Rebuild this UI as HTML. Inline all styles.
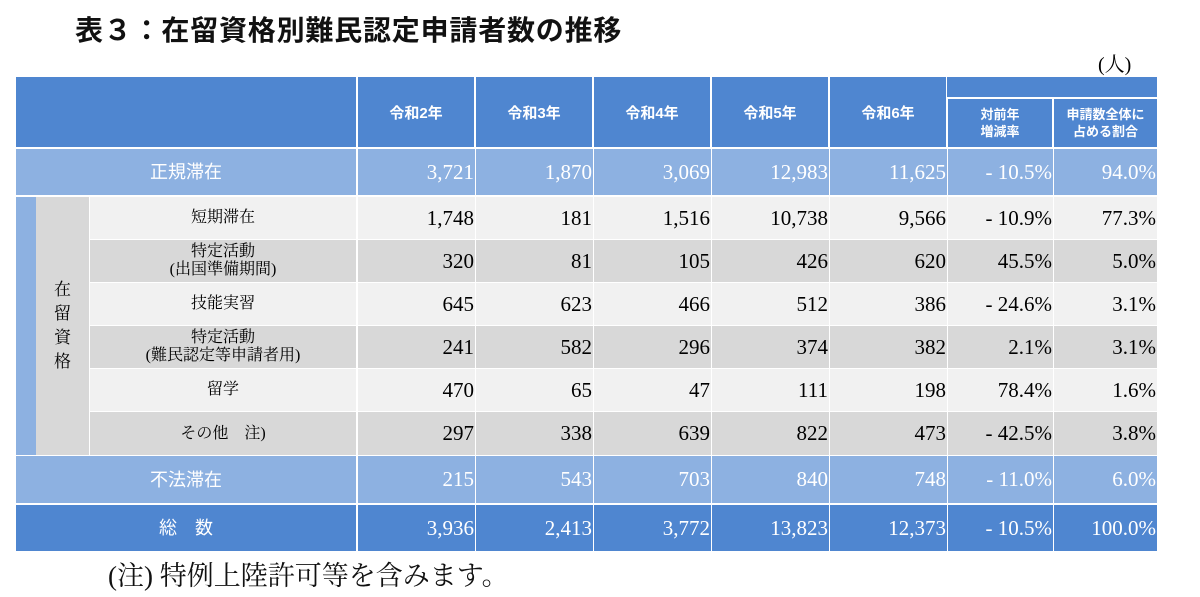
<!DOCTYPE html>
<html><head><meta charset="utf-8"><style>
body{margin:0;width:1200px;height:597px;background:#fff;position:relative;overflow:hidden;font-family:"Liberation Serif","Noto Serif CJK JP",serif}
.a{position:absolute;box-sizing:border-box}
.c{display:flex;align-items:center;justify-content:center;text-align:center}
.r{display:flex;align-items:center;justify-content:flex-end;padding-right:1px}
.h{font-family:"Liberation Sans","Noto Sans CJK JP",sans-serif;color:#fff;font-size:15px;font-weight:bold}
.n{font-size:21px}
.w{color:#fff}
</style></head><body>
<div class="a" style="left:75px;top:9px;font-family:'Liberation Sans','Noto Sans CJK JP',sans-serif;font-weight:bold;font-size:28px;letter-spacing:0.8px;color:#111">表３：在留資格別難民認定申請者数の推移</div>
<div class="a" style="left:1098px;top:48px;font-size:20px">(人)</div>
<div id="t"></div>
<div class="a" style="left:108px;top:554px;font-size:27px;color:#111">(注) 特例上陸許可等を含みます。</div>
<script>
var X=[16,357,475,593,711,829,947,1053,1157];
var out='';
function box(x,y,w,h,bg,cls,txt){out+='<div class="a '+cls+'" style="left:'+x+'px;top:'+y+'px;width:'+w+'px;height:'+h+'px;background:'+bg+'">'+txt+'</div>';}
var B='#4f86d0';
box(16,77,340,70,B,'','');
var hd=['令和2年','令和3年','令和4年','令和5年','令和6年'];
for(var i=0;i<5;i++)box(X[i+1]+1,77,X[i+2]-X[i+1]-2,70,B,'c h',hd[i]);
box(947,77,210,20,B,'','');
box(948,99,104,48,B,'c h','<span style="font-size:13px;line-height:17px">対前年<br>増減率</span>');
box(1054,99,103,48,B,'c h','<span style="font-size:13px;line-height:17px">申請数全体に<br>占める割合</span>');
var rows=[
['正規滞在','3,721','1,870','3,069','12,983','11,625','- 10.5%','94.0%',149,46,'#8db1e1',1],
['短期滞在','1,748','181','1,516','10,738','9,566','- 10.9%','77.3%',197,42,'#f1f1f1',0],
['特定活動<br>(出国準備期間)','320','81','105','426','620','45.5%','5.0%',240,42,'#d8d8d8',0],
['技能実習','645','623','466','512','386','- 24.6%','3.1%',283,42,'#f1f1f1',0],
['特定活動<br>(難民認定等申請者用)','241','582','296','374','382','2.1%','3.1%',326,42,'#d8d8d8',0],
['留学','470','65','47','111','198','78.4%','1.6%',369,42,'#f1f1f1',0],
['その他　注)','297','338','639','822','473','- 42.5%','3.8%',412,43,'#d8d8d8',0],
['不法滞在','215','543','703','840','748','- 11.0%','6.0%',456,47,'#8db1e1',1],
['総　数','3,936','2,413','3,772','13,823','12,373','- 10.5%','100.0%',505,46,B,1]
];
box(16,197,20,258,'#8db1e1','','');
box(36,197,53,258,'#d8d8d8','c','<span style="font-size:17px;line-height:24px">在<br>留<br>資<br>格</span>');
rows.forEach(function(r){
 var y=r[8],h=r[9],bg=r[10],dark=r[11];
 var lx=dark?16:90,lw=dark?340:266;
 box(lx,y,lw,h,bg,'c '+(dark?'w':''),'<span style="font-size:'+(dark?18:16)+'px;line-height:18px'+(dark?';font-family:\'Liberation Sans\',\'Noto Sans CJK JP\',sans-serif':'')+'">'+r[0]+'</span>');
 for(var i=1;i<=7;i++)box(X[i]+1,y,X[i+1]-X[i]-1,h,bg,'r n '+(dark?'w':''),r[i]);
});
document.getElementById('t').innerHTML=out;
</script>
</body></html>
